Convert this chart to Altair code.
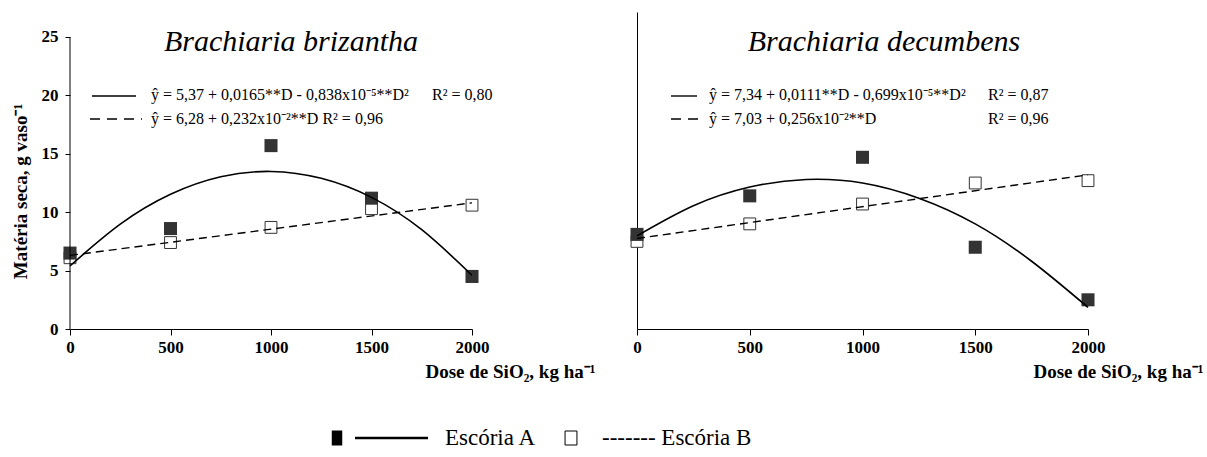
import altair as alt
import pandas as pd

# ---------------- data ----------------
DOSE = [0, 500, 1000, 1500, 2000]
BB_ESCORIA_A = [6.5, 8.6, 15.7, 11.2, 4.5]
BB_ESCORIA_B = [6.1, 7.4, 8.7, 10.3, 10.6]
BD_ESCORIA_A = [8.1, 11.4, 14.7, 7.0, 2.5]
BD_ESCORIA_B = [7.5, 9.0, 10.7, 12.5, 12.7]

CURVE_DOSE = [0, 250, 500, 750, 1000, 1250, 1500, 1750, 2000]
BB_FIT_A = [5.4, 8.97, 11.53, 13.03, 13.49, 12.9, 11.27, 8.5, 4.6]
BD_FIT_A = [7.97, 10.55, 12.15, 12.8, 12.5, 11.2, 9.0, 5.8, 1.85]
LINE_DOSE = [0, 2000]
BB_FIT_B = [6.3, 10.8]
BD_FIT_B = [7.75, 13.2]

Y_TICKS = [0, 5, 10, 15, 20, 25]
TITLES = ["Brachiaria brizantha", "Brachiaria decumbens"]
EQ_A = ["ŷ = 5,37 + 0,0165**D - 0,838x10⁻⁵**D²", "ŷ = 7,34 + 0,0111**D - 0,699x10⁻⁵**D²"]
EQ_B = ["ŷ = 6,28 + 0,232x10⁻²**D R² = 0,96", "ŷ = 7,03 + 0,256x10⁻²**D"]
R2_A = ["R² = 0,80", "R² = 0,87"]
R2_B = ["", "R² = 0,96"]
LEGEND = ["Escória A", "------- Escória B"]
X_TITLE = "Dose de SiO₂, kg ha⁻¹"
Y_TITLE = "Matéria seca, g vaso⁻¹"

FONT = "Liberation Serif"
INK = "#000000"
SQ = "#333333"
H = 317
Y_MAX = 27.14
EQ_SIZE = 16


def panel(idx, width, ptsA, ptsB, fitA, fitB, lay):
    xscale = alt.Scale(domain=[0, 2000], nice=False)
    yscale = alt.Scale(domain=[0, Y_MAX], nice=False, zero=True)
    xaxis = alt.Axis(
        values=DOSE, title=X_TITLE, grid=False, labelFlush=False, format="d",
        labelFont=FONT, labelFontSize=17, labelFontWeight="bold", labelColor=INK,
        labelPadding=4, tickSize=6, tickColor=INK, domainColor=INK,
        titleFont=FONT, titleFontSize=19, titleFontWeight="bold", titleColor=INK,
        titleAlign="left", titleAnchor="start", titleX=lay["xt"], titleY=48,
        titleBaseline="alphabetic",
    )
    if idx == 0:
        yaxis = alt.Axis(
            values=Y_TICKS, title=Y_TITLE, grid=False, domain=False, format="d",
            labelFont=FONT, labelFontSize=17, labelFontWeight="bold", labelColor=INK,
            labelPadding=7, tickSize=5, tickColor=INK,
            titleFont=FONT, titleFontSize=19, titleFontWeight="bold", titleColor=INK,
            titleAngle=270, titleAlign="center", titleBaseline="middle",
            titleX=-50, titleY=179,
        )
    else:
        yaxis = alt.Axis(values=Y_TICKS, title=None, grid=False, labels=False,
                         ticks=False, domain=True, domainColor=INK)

    pts = pd.DataFrame({
        "D": DOSE * 2,
        "v": ptsA + ptsB,
        "s": ["A"] * len(DOSE) + ["B"] * len(DOSE),
    })
    fa = pd.DataFrame({"D": CURVE_DOSE, "v": fitA})
    fb = pd.DataFrame({"D": LINE_DOSE, "v": fitB})

    X = alt.X("D:Q", scale=xscale, axis=xaxis)
    Y = alt.Y("v:Q", scale=yscale, axis=yaxis)

    open_pts = alt.Chart(pts).transform_filter(alt.datum.s == "B").mark_point(
        shape="square", size=140, filled=True, fill="white", stroke=SQ, strokeWidth=1, opacity=1
    ).encode(x=X, y=Y)
    full_pts = alt.Chart(pts).transform_filter(alt.datum.s == "A").mark_point(
        shape="square", size=170, filled=True, color=SQ, opacity=1
    ).encode(x=X, y=Y)
    line_a = alt.Chart(fa).mark_line(color=INK, strokeWidth=1.6, interpolate="natural").encode(x=X, y=Y)
    line_b = alt.Chart(fb).mark_line(color=INK, strokeWidth=1.4, strokeDash=[8, 5]).encode(x=X, y=Y)

    layers = [open_pts, full_pts, line_a, line_b]

    if idx == 0:
        dom = pd.DataFrame({"lo": [Y_TICKS[0]], "hi": [Y_TICKS[-1]]})
        layers.append(
            alt.Chart(dom).mark_rule(color=INK, strokeWidth=1).encode(
                x=alt.value(0), y=alt.Y("lo:Q", scale=yscale, axis=yaxis), y2="hi:Q")
        )

    ann = pd.DataFrame({
        "title": [TITLES[idx]], "eqa": [EQ_A[idx]], "eqb": [EQ_B[idx]],
        "r2a": [R2_A[idx]], "r2b": [R2_B[idx]],
    })
    base = alt.Chart(ann)
    layers += [
        base.mark_text(font=FONT, fontSize=30, fontStyle="italic", color=INK,
                       align="center", baseline="alphabetic").encode(
            text="title:N", x=alt.value(lay["tx"]), y=alt.value(39)),
        base.mark_rule(color=INK, strokeWidth=1.4).encode(
            x=alt.value(lay["sa"][0]), x2=alt.value(lay["sa"][1]), y=alt.value(84)),
        base.mark_rule(color=INK, strokeWidth=1.4, strokeDash=[10, 7]).encode(
            x=alt.value(lay["sb"][0]), x2=alt.value(lay["sb"][1]), y=alt.value(107)),
        base.mark_text(font=FONT, fontSize=EQ_SIZE, color=INK, align="left", baseline="middle").encode(
            text="eqa:N", x=alt.value(lay["ex"]), y=alt.value(83)),
        base.mark_text(font=FONT, fontSize=EQ_SIZE, color=INK, align="left", baseline="middle").encode(
            text="eqb:N", x=alt.value(lay["ex"]), y=alt.value(107)),
        base.mark_text(font=FONT, fontSize=EQ_SIZE, color=INK, align="left", baseline="middle").encode(
            text="r2a:N", x=alt.value(lay["rx"]), y=alt.value(83)),
        base.mark_text(font=FONT, fontSize=EQ_SIZE, color=INK, align="left", baseline="middle").encode(
            text="r2b:N", x=alt.value(lay["rx"]), y=alt.value(107)),
    ]
    return alt.layer(*layers).properties(width=width, height=H)


left = panel(0, 402, BB_ESCORIA_A, BB_ESCORIA_B, BB_FIT_A, BB_FIT_B,
             {"xt": 355, "tx": 221, "sa": (22, 66), "sb": (20, 72), "ex": 81, "rx": 362})
right = panel(1, 451, BD_ESCORIA_A, BD_ESCORIA_B, BD_FIT_A, BD_FIT_B,
              {"xt": 396, "tx": 247, "sa": (34, 60), "sb": (34, 68), "ex": 72, "rx": 351})

leg_df = pd.DataFrame({"a": [LEGEND[0]], "b": [LEGEND[1]]})
lb = alt.Chart(leg_df)
legend = alt.layer(
    lb.mark_point(shape="M-0.7,-1L0.7,-1L0.7,1L-0.7,1Z", size=225, filled=True,
                  color="#000000", opacity=1).encode(x=alt.value(267), y=alt.value(9)),
    lb.mark_rule(color=INK, strokeWidth=2.5).encode(x=alt.value(285), x2=alt.value(358), y=alt.value(9)),
    lb.mark_text(font=FONT, fontSize=23, color=INK, align="left", baseline="middle").encode(
        text="a:N", x=alt.value(375), y=alt.value(9)),
    lb.mark_point(shape="M-0.85,-1L0.85,-1L0.85,1L-0.85,1Z", size=196, filled=False,
                  color="#000000", strokeWidth=1, opacity=1).encode(x=alt.value(501), y=alt.value(9)),
    lb.mark_text(font=FONT, fontSize=23, color=INK, align="left", baseline="middle").encode(
        text="b:N", x=alt.value(532), y=alt.value(9)),
).properties(width=1018, height=20)

top = alt.hconcat(left, right, spacing=165, bounds="flush")
chart = alt.vconcat(top, legend, spacing=417, bounds="flush").configure_view(
    stroke=None
).properties(
    padding={"left": 11, "top": 12, "right": 0, "bottom": 0},
    background="white",
)

chart.save("out.html", embed_options={"renderer": "svg", "actions": False})
